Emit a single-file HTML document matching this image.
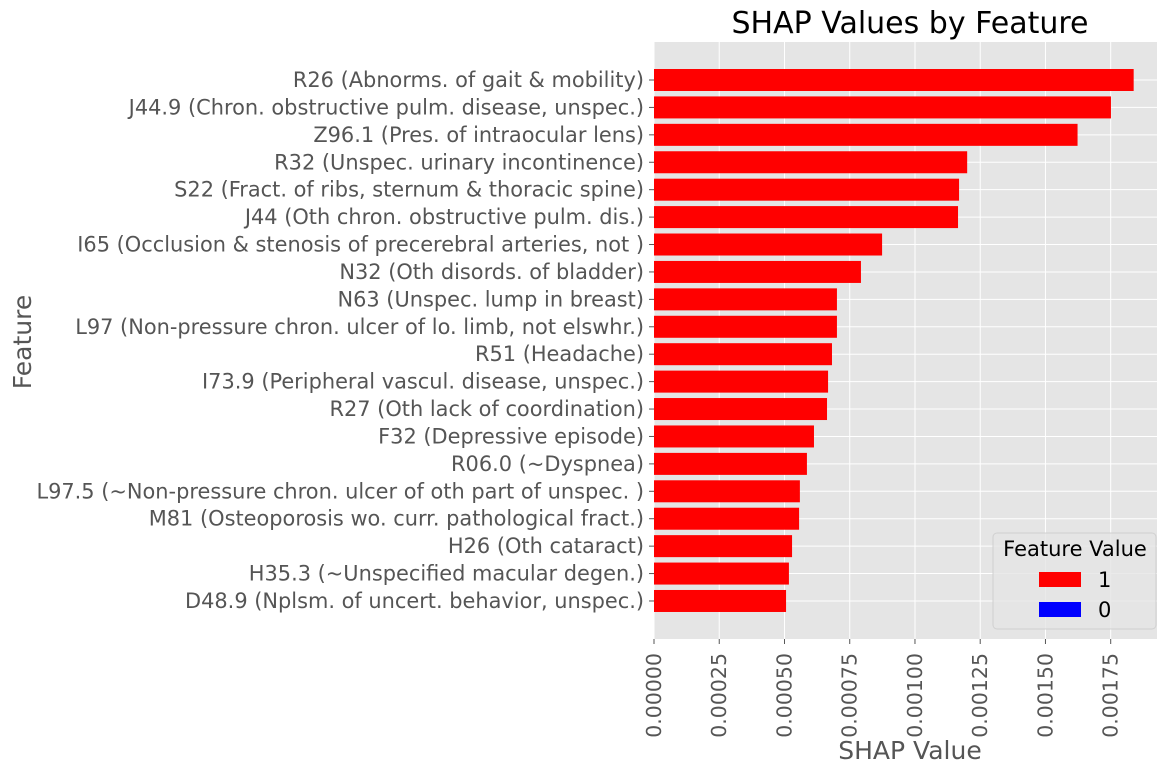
<!DOCTYPE html>
<html><head><meta charset="utf-8"><style>
body{margin:0;background:#fff;}
svg{display:block;font-family:"DejaVu Sans","Liberation Sans",sans-serif;}
</style></head><body>
<svg id="chart" width="1174" height="775"></svg>
<script>
const categories=["R26 (Abnorms. of gait & mobility)","J44.9 (Chron. obstructive pulm. disease, unspec.)","Z96.1 (Pres. of intraocular lens)","R32 (Unspec. urinary incontinence)","S22 (Fract. of ribs, sternum & thoracic spine)","J44 (Oth chron. obstructive pulm. dis.)","I65 (Occlusion & stenosis of precerebral arteries, not )","N32 (Oth disords. of bladder)","N63 (Unspec. lump in breast)","L97 (Non-pressure chron. ulcer of lo. limb, not elswhr.)","R51 (Headache)","I73.9 (Peripheral vascul. disease, unspec.)","R27 (Oth lack of coordination)","F32 (Depressive episode)","R06.0 (~Dyspnea)","L97.5 (~Non-pressure chron. ulcer of oth part of unspec. )","M81 (Osteoporosis wo. curr. pathological fract.)","H26 (Oth cataract)","H35.3 (~Unspecified macular degen.)","D48.9 (Nplsm. of uncert. behavior, unspec.)"];
const shapValues=[0.001838,0.001751,0.001623,0.0012,0.001169,0.001165,0.000874,0.000793,0.000701,0.000701,0.000682,0.000667,0.000663,0.000613,0.000586,0.000559,0.000556,0.000529,0.000517,0.000506];
const xTicks=[0,0.00025,0.0005,0.00075,0.001,0.00125,0.0015,0.00175];
const xTickLabels=["0.00000","0.00025","0.00050","0.00075","0.00100","0.00125","0.00150","0.00175"];
const NS="http://www.w3.org/2000/svg";
const svg=document.getElementById('chart');
const L=654,R=1157,T=42,B=639;
const xScale=v=>L+v/0.00175*(1110.7-L);
const rowStep=27.42, row0=80;
const yScale=i=>row0+i*rowStep;
function mk(tag,attrs,txt){const e=document.createElementNS(NS,tag);for(const k in attrs)e.setAttribute(k,attrs[k]);if(txt!==undefined)e.textContent=txt;svg.appendChild(e);return e;}
let e=mk('rect',{x:L,y:T,width:R-L,height:B-T,fill:'#e5e5e5'});


xTicks.forEach((t,i)=>{const x=xScale(t);
 let g=mk('line',{x1:x,x2:x,y1:T,y2:B,stroke:'#fff','stroke-width':1});
 
 
 mk('line',{x1:x,x2:x,y1:B,y2:B+5,stroke:'#555','stroke-width':1});
 let tl=mk('text',{x:0,y:0,transform:`translate(${x+7},${B+14}) rotate(-90)`,'text-anchor':'end','font-size':20.5,fill:'#555'},xTickLabels[i]);
 
 
});
categories.forEach((c,i)=>{const y=yScale(i);
 let g=mk('line',{x1:L,x2:R,y1:y,y2:y,stroke:'#fff','stroke-width':1});
 
 
});
categories.forEach((c,i)=>{const y=yScale(i);
 let b=mk('rect',{x:L,y:y-11,width:xScale(shapValues[i])-L,height:22,fill:'#ff0000'});
 
 
 mk('line',{x1:L-5,x2:L,y1:y,y2:y,stroke:'#555','stroke-width':1});
 let t=mk('text',{x:L-10,y:y+7,'text-anchor':'end','font-size':20.9,fill:'#555'},c);
 
 
});
e=mk('text',{x:910,y:33,'text-anchor':'middle','font-size':30,fill:'#000'},'SHAP Values by Feature');


e=mk('text',{x:910,y:759,'text-anchor':'middle','font-size':25,fill:'#555'},'SHAP Value');


e=mk('text',{x:0,y:0,transform:'translate(31,342) rotate(-90)','text-anchor':'middle','font-size':25,fill:'#555'},'Feature');


e=mk('rect',{x:993,y:533,width:163,height:96,rx:4,fill:'#e5e5e5',stroke:'#d0d0d0','fill-opacity':0.8});


e=mk('text',{x:1075,y:556,'text-anchor':'middle','font-size':21,fill:'#000'},'Feature Value');


e=mk('rect',{x:1039,y:572,width:42,height:15,fill:'#ff0000'});


e=mk('text',{x:1098,y:587,'font-size':21,fill:'#000'},'1');


e=mk('rect',{x:1039,y:602,width:42,height:15,fill:'#0000ff'});


e=mk('text',{x:1098,y:617,'font-size':21,fill:'#000'},'0');


</script>
</body></html>
